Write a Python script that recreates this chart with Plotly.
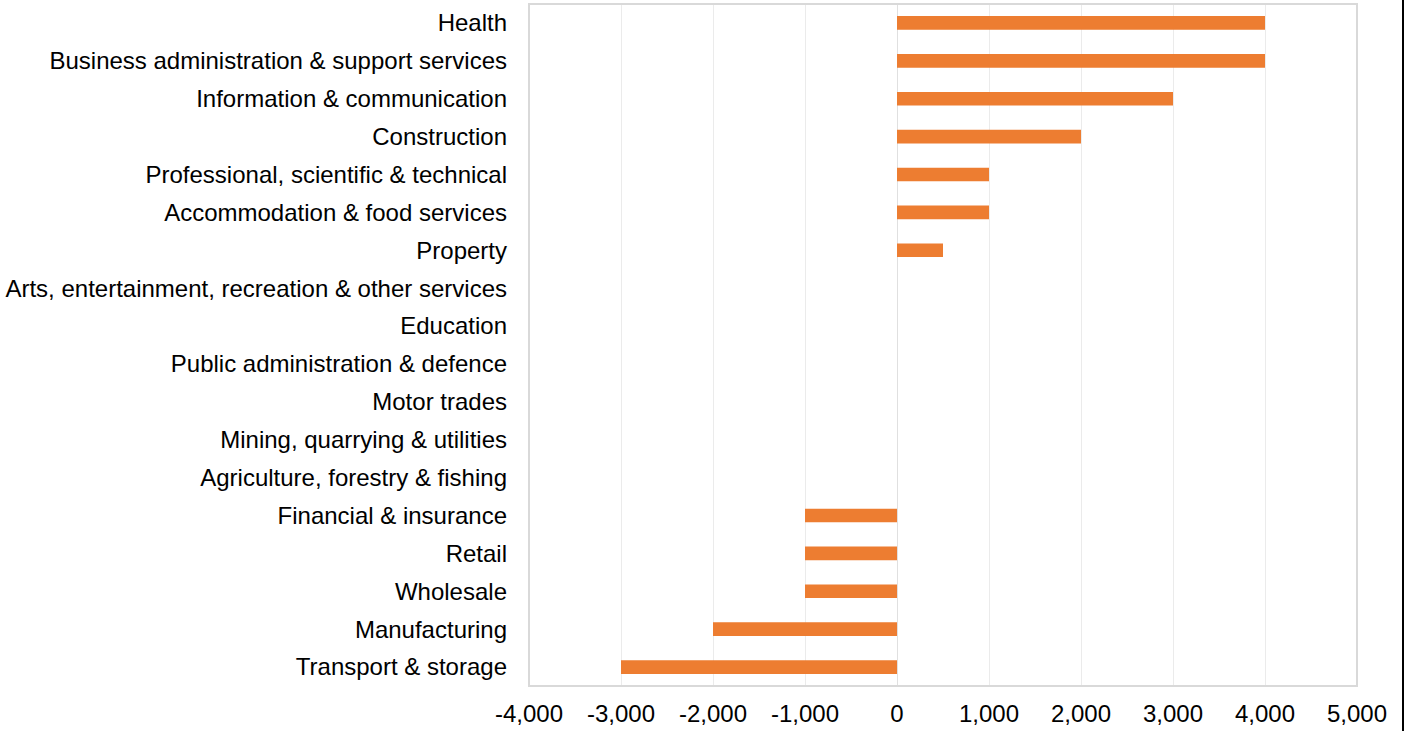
import plotly.graph_objects as go

categories = [
    "Health",
    "Business administration & support services",
    "Information & communication",
    "Construction",
    "Professional, scientific & technical",
    "Accommodation & food services",
    "Property",
    "Arts, entertainment, recreation & other services",
    "Education",
    "Public administration & defence",
    "Motor trades",
    "Mining, quarrying & utilities",
    "Agriculture, forestry & fishing",
    "Financial & insurance",
    "Retail",
    "Wholesale",
    "Manufacturing",
    "Transport & storage",
]
values = [4000, 4000, 3000, 2000, 1000, 1000, 500, 0, 0, 0, 0, 0, 0,
          -1000, -1000, -1000, -2000, -3000]
x_ticks = [-4000, -3000, -2000, -1000, 0, 1000, 2000, 3000, 4000, 5000]
x_tick_labels = ["-4,000", "-3,000", "-2,000", "-1,000", "0", "1,000",
                 "2,000", "3,000", "4,000", "5,000"]

fig = go.Figure(go.Bar(
    x=values, y=categories, orientation="h",
    marker=dict(color="#ED7D31", line=dict(width=0)),
    width=0.36,
))

W, H = 1406, 731
L, R, T, B = 529, 49, 4, 43

fig.update_layout(
    width=W, height=H,
    margin=dict(l=L, r=R, t=T, b=B, pad=0),
    paper_bgcolor="white", plot_bgcolor="white",
    font=dict(family="Liberation Sans, Arial, sans-serif", size=24, color="#000000"),
    showlegend=False,
    xaxis=dict(
        range=[-4000, 5000], tickvals=x_ticks, ticktext=x_tick_labels,
        showgrid=True, gridcolor="#ebebeb", gridwidth=1,
        zeroline=True, zerolinecolor="#e0e0e0", zerolinewidth=1,
        showline=False, ticks="", ticklabelstandoff=11,
        fixedrange=True,
    ),
    yaxis=dict(
        categoryorder="array", categoryarray=categories[::-1],
        autorange=False, range=[-0.5, len(categories) - 0.5],
        showgrid=False, zeroline=False, showline=False, ticks="",
        ticklabelstandoff=21, fixedrange=True,
    ),
    shapes=[
        dict(type="rect", xref="paper", yref="paper", x0=0, x1=1, y0=0, y1=1,
             line=dict(color="#d9d9d9", width=2), fillcolor="rgba(0,0,0,0)", layer="above"),
        dict(type="line", xref="paper", yref="paper",
             x0=(1403 - L) / (W - L - R), x1=(1403 - L) / (W - L - R),
             y0=-B / (H - T - B) - 0.01, y1=1 + T / (H - T - B) + 0.01,
             line=dict(color="#000000", width=2)),
    ],
)

fig.write_html("out.html", config={"displayModeBar": False},
               post_script="document.body.style.margin='0px';document.body.style.overflow='hidden';")
